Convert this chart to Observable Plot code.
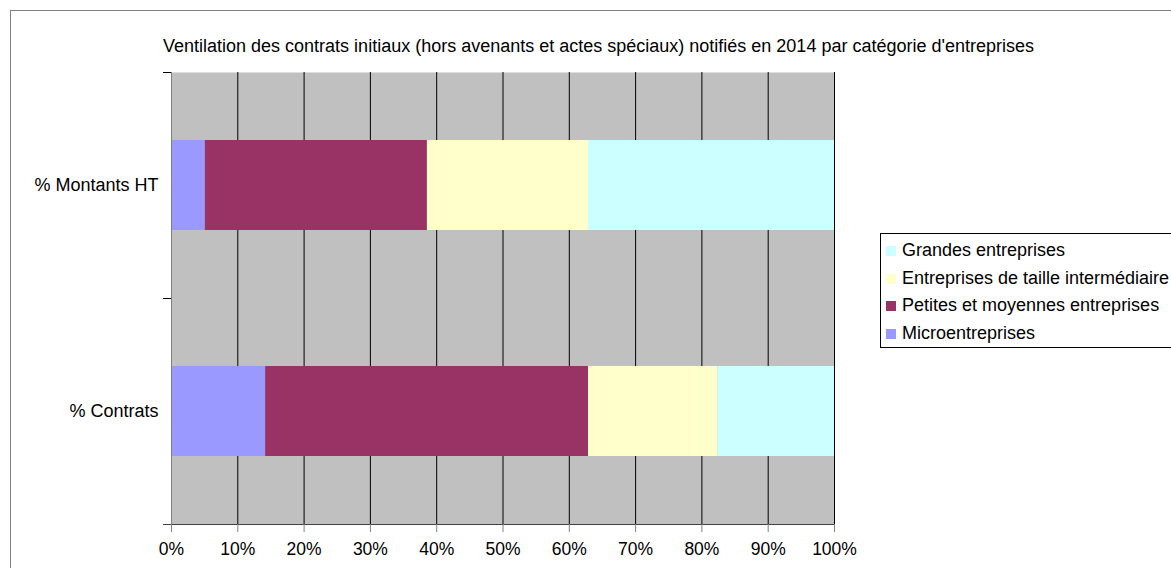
<!DOCTYPE html>
<html>
<head>
<meta charset="utf-8">
<script src="https://cdn.jsdelivr.net/npm/d3@7"></script>
<script src="https://cdn.jsdelivr.net/npm/@observablehq/plot@0.6"></script>
<style>
  html, body { margin: 0; padding: 0; background: #fff; overflow: hidden; }
  #wrap { position: relative; width: 1171px; height: 568px; overflow: hidden; font-family: "Liberation Sans", Arial, sans-serif; }
  #outer { position: absolute; left: 10px; top: 10px; width: 1300px; height: 700px; border: 1px solid #808080; box-sizing: border-box; pointer-events: none; }
  #title { position: absolute; left: 163px; top: 36px; font-size: 18px; line-height: 21px; color: #000; white-space: nowrap; }
  #legend { position: absolute; left: 880px; top: 233px; width: 340px; height: 115px; border: 1px solid #000; box-sizing: border-box; background: #fff; }
  .item { position: absolute; left: 5px; font-size: 18px; line-height: 21px; white-space: nowrap; color: #000; }
  .sw { display: inline-block; width: 10px; height: 10px; margin-right: 6px; vertical-align: 0px; }
  #chart { position: absolute; left: 0; top: 0; }
</style>
</head>
<body>
<div id="wrap">
  <div id="chart"></div>
  <div id="outer"></div>
  <div id="title"></div>
  <div id="legend"></div>
</div>
<script>
const titleText = "Ventilation des contrats initiaux (hors avenants et actes spéciaux) notifiés en 2014 par catégorie d'entreprises";
const measures = ["% Montants HT", "% Contrats"];
const categories = ["Microentreprises", "Petites et moyennes entreprises", "Entreprises de taille intermédiaire", "Grandes entreprises"];
const montantsHT = [5.1, 33.5, 24.3, 37.1];
const contrats = [14.2, 48.7, 19.5, 17.6];
const colors = ["#9999FF", "#993366", "#FFFFCC", "#CCFFFF"];
const xTicks = [0, 10, 20, 30, 40, 50, 60, 70, 80, 90, 100];
const legendOrder = ["Grandes entreprises", "Entreprises de taille intermédiaire", "Petites et moyennes entreprises", "Microentreprises"];

const data = [];
categories.forEach((c, i) => data.push({measure: measures[0], category: c, value: montantsHT[i]}));
categories.forEach((c, i) => data.push({measure: measures[1], category: c, value: contrats[i]}));

const W = 1171, H = 568;
const mL = 171, mR = 337, mT = 72, mB = 44;
const step = (H - mT - mB) / measures.length;

const chart = Plot.plot({
  width: W,
  height: H,
  marginLeft: mL,
  marginRight: mR,
  marginTop: mT,
  marginBottom: mB,
  style: {fontFamily: "'Liberation Sans', Arial, sans-serif", fontSize: "18px", color: "#000", background: "transparent"},
  x: {domain: [0, 100], label: null},
  y: {domain: measures, paddingInner: 0.6, paddingOuter: 0.3, label: null},
  color: {domain: categories, range: colors},
  marks: [
    Plot.frame({fill: "#C0C0C0", stroke: "none"}),
    Plot.ruleX(xTicks.slice(1), {stroke: "#000", strokeWidth: 1}),
    Plot.barX(data, Plot.stackX({x: "value", y: "measure", fill: "category"})),
    Plot.ruleX([0], {stroke: "#808080", strokeWidth: 1}),
    Plot.ruleY([measures[0]], {x1: 0, x2: 0, insetLeft: -8, dy: -step / 2, stroke: "#000"}),
    Plot.ruleY([measures[0]], {x1: 0, x2: 0, insetLeft: -8, dy: step / 2, stroke: "#000"}),
    Plot.ruleY([measures[1]], {x1: 0, x2: 100, insetLeft: -8, dy: step / 2, stroke: "#404040"}),
    Plot.axisX({ticks: xTicks, tickFormat: d => d + "%", tickSize: 8, tickPadding: 10, stroke: "#808080", fill: "#000", fontSize: 17.5, label: null}),
    Plot.axisY({tickSize: 0, tickPadding: 13, fill: "#000", fontSize: 18, label: null})
  ]
});
document.getElementById("chart").appendChild(chart);
document.getElementById("title").textContent = titleText;

const legend = document.getElementById("legend");
legendOrder.forEach((c, i) => {
  const div = document.createElement("div");
  div.className = "item";
  div.style.top = (6 + i * 27.7) + "px";
  const sw = document.createElement("span");
  sw.className = "sw";
  sw.style.background = colors[categories.indexOf(c)];
  div.appendChild(sw);
  div.appendChild(document.createTextNode(c));
  legend.appendChild(div);
});
</script>
</body>
</html>
